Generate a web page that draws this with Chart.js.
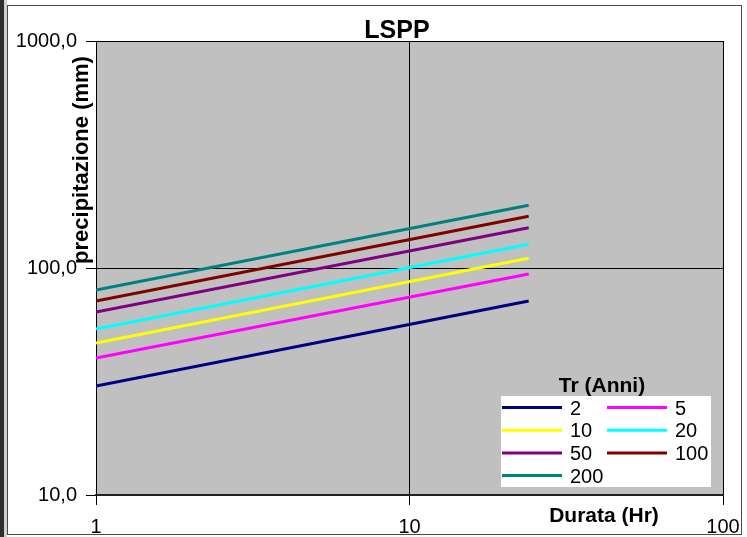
<!DOCTYPE html>
<html>
<head>
<meta charset="utf-8">
<script src="https://cdn.jsdelivr.net/npm/chart.js@4.4.0/dist/chart.umd.min.js"></script>
<style>
  html, body { margin: 0; padding: 0; background: #fff; }
  #wrap { width: 747px; height: 537px; position: relative; }
</style>
</head>
<body>
<div id="wrap"><canvas id="lspp"></canvas></div>
<script>
// durate (ore) e valori
var durations = [1, 24];
var returnPeriods = ['2', '5', '10', '20', '50', '100', '200'];
var tr2 = [30.2, 71.5];
var tr5 = [40.1, 94.1];
var tr10 = [46.7, 110.3];
var tr20 = [53.9, 127.2];
var tr50 = [64.0, 150.5];
var tr100 = [71.5, 169.0];
var tr200 = [80.0, 188.9];
var seriesValues = [tr2, tr5, tr10, tr20, tr50, tr100, tr200];
var seriesColors = ['#000080', '#ff00ff', '#ffff00', '#00ffff', '#800080', '#800000', '#008080'];
var xTicks = [1, 10, 100];
var yTicks = [10, 100, 1000];

var FONT = '"Liberation Sans", Arial, sans-serif';

var datasets = returnPeriods.map(function(tr, i) {
    return {
        label: tr,
        data: durations.map(function(d, j) { return { x: d, y: seriesValues[i][j] }; }),
        borderColor: seriesColors[i],
        backgroundColor: seriesColors[i],
        borderWidth: 3,
        pointRadius: 0,
        tension: 0,
        fill: false
    };
});

// sfondo, cornice e area grigia
var framePlugin = {
    id: 'frame',
    beforeDraw: function(chart) {
        var c = chart.ctx, a = chart.chartArea;
        c.save();
        c.fillStyle = '#ffffff';
        c.fillRect(0, 0, chart.width, chart.height);
        c.fillStyle = '#2e2e2e';
        c.fillRect(0, 0, 4, chart.height);
        c.fillStyle = '#cfcfcf';
        c.fillRect(4, 0, 3, chart.height);
        c.strokeStyle = '#4a4a4a';
        c.lineWidth = 1;
        c.strokeRect(7.5, 5.5, 734, 529);
        c.fillStyle = '#c0c0c0';
        c.fillRect(a.left, a.top, a.right - a.left, a.bottom - a.top);
        c.restore();
    }
};

// titoli e legenda
var textPlugin = {
    id: 'texts',
    afterDraw: function(chart) {
        var c = chart.ctx;
        c.save();
        c.fillStyle = '#000';
        c.textAlign = 'center';
        c.textBaseline = 'alphabetic';
        c.font = 'bold 25px ' + FONT;
        c.fillText('LSPP', 397, 38);

        c.font = 'bold 21px ' + FONT;
        c.fillText('Durata (Hr)', 604, 522);

        c.save();
        c.translate(88, 160);
        c.rotate(-Math.PI / 2);
        c.font = 'bold 22px ' + FONT;
        c.fillText('precipitazione (mm)', 0, 0);
        c.restore();

        // legenda
        c.fillStyle = '#ffffff';
        c.fillRect(501, 396, 210, 91);
        c.fillStyle = '#000';
        c.font = 'bold 21px ' + FONT;
        c.fillText('Tr (Anni)', 602, 392);
        c.font = '20px ' + FONT;
        c.textAlign = 'left';
        c.textBaseline = 'middle';
        chart.data.datasets.forEach(function(ds, i) {
            var col = i % 2, row = Math.floor(i / 2);
            var x = 502 + col * 105;
            var y = 407.5 + row * 22.7;
            c.strokeStyle = ds.borderColor;
            c.lineWidth = 3;
            c.beginPath();
            c.moveTo(x, y);
            c.lineTo(x + 60, y);
            c.stroke();
            c.fillStyle = '#000';
            c.fillText(ds.label, x + 68, y + 1.5);
        });
        c.restore();
    }
};

var ctx = document.getElementById('lspp').getContext('2d');
var chart = new Chart(ctx, {
    type: 'line',
    data: { datasets: datasets },
    plugins: [framePlugin, textPlugin],
    options: {
        responsive: true,
        maintainAspectRatio: false,
        animation: false,
        layout: { padding: { top: 41, right: 24, left: 0, bottom: 0 } },
        plugins: {
            legend: { display: false },
            title: { display: false },
            tooltip: { enabled: false }
        },
        scales: {
            x: {
                type: 'logarithmic',
                min: 1,
                max: 100,
                afterBuildTicks: function(s) { s.ticks = xTicks.map(function(v) { return { value: v }; }); },
                afterFit: function(s) {
                    s.height = 42;
                    s.paddingLeft = 0;
                    s.paddingRight = 0;
                },
                ticks: {
                    color: '#000',
                    font: { family: FONT, size: 20 },
                    padding: 10,
                    maxRotation: 0,
                    autoSkip: false,
                    callback: function(v) { return String(v); }
                },
                grid: { color: '#000', lineWidth: 1, tickLength: 10, tickColor: '#000' },
                border: { color: '#222', width: 2 }
            },
            y: {
                type: 'logarithmic',
                min: 10,
                max: 1000,
                afterBuildTicks: function(s) { s.ticks = yTicks.map(function(v) { return { value: v }; }); },
                afterFit: function(s) { s.width = 96; },
                ticks: {
                    color: '#000',
                    font: { family: FONT, size: 20 },
                    padding: 9,
                    autoSkip: false,
                    callback: function(v) { return Number(v).toFixed(1).replace('.', ','); }
                },
                grid: { color: '#000', lineWidth: 1, tickLength: 10, tickColor: '#000' },
                border: { color: '#000', width: 1 }
            }
        }
    }
});
</script>
</body>
</html>
